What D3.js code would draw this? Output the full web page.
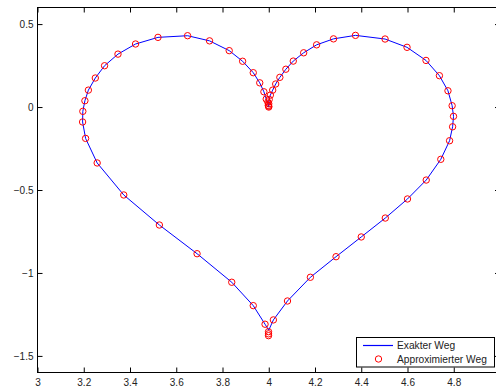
<!DOCTYPE html>
<html>
<head>
<meta charset="utf-8">
<script src="https://cdn.jsdelivr.net/npm/d3@7"></script>
<style>
  body { margin: 0; background: #fff; }
  svg { display: block; font-family: "Liberation Sans", Arial, sans-serif; }
</style>
</head>
<body>
<div id="chart"></div>
<script>
// exact path (blue line)
const pathX = [4.000, 3.998, 3.996, 3.989, 3.979, 3.961, 3.933, 3.887, 3.829, 3.744, 3.649, 3.521, 3.424, 3.348,
  3.290, 3.250, 3.220, 3.205, 3.196, 3.195, 3.208, 3.258, 3.373, 3.527, 3.690, 3.840, 3.933, 3.984, 4.000,
  4.020, 4.081, 4.180, 4.291, 4.400, 4.504, 4.600, 4.681, 4.744, 4.782, 4.795, 4.799, 4.793, 4.775, 4.738,
  4.680, 4.598, 4.503, 4.375, 4.280, 4.207, 4.151, 4.106, 4.074, 4.048, 4.030, 4.017, 4.007, 4.002, 4.000];
const pathY = [0.000, 0.010, 0.030, 0.048, 0.092, 0.146, 0.207, 0.276, 0.340, 0.399, 0.430, 0.420, 0.380, 0.319,
  0.249, 0.175, 0.102, 0.038, -0.026, -0.090, -0.189, -0.337, -0.530, -0.711, -0.884, -1.056, -1.197, -1.309, -1.345,
  -1.283, -1.169, -1.026, -0.902, -0.783, -0.669, -0.554, -0.440, -0.315, -0.203, -0.119, -0.056, 0.008, 0.098, 0.189,
  0.281, 0.360, 0.410, 0.432, 0.411, 0.375, 0.327, 0.277, 0.228, 0.179, 0.139, 0.102, 0.072, 0.046, 0.000];

// approximated path (red circles)
const approxX = [4.000, 3.998, 3.996, 3.989, 3.979, 3.961, 3.933, 3.887, 3.829, 3.744, 3.649, 3.521, 3.424, 3.348,
  3.290, 3.250, 3.220, 3.205, 3.196, 3.195, 3.208, 3.258, 3.373, 3.527, 3.690, 3.840, 3.933, 3.984, 3.999, 3.999, 3.999,
  4.020, 4.081, 4.180, 4.291, 4.400, 4.504, 4.600, 4.681, 4.744, 4.782, 4.795, 4.799, 4.793, 4.775, 4.738,
  4.680, 4.598, 4.503, 4.375, 4.280, 4.207, 4.151, 4.106, 4.074, 4.048, 4.030, 4.017, 4.007, 4.002, 4.000, 4.000];
const approxY = [0.000, 0.010, 0.030, 0.048, 0.092, 0.146, 0.207, 0.276, 0.340, 0.399, 0.430, 0.420, 0.380, 0.319,
  0.249, 0.175, 0.102, 0.038, -0.026, -0.090, -0.189, -0.337, -0.530, -0.711, -0.884, -1.056, -1.197, -1.309, -1.354, -1.367, -1.378,
  -1.283, -1.169, -1.026, -0.902, -0.783, -0.669, -0.554, -0.440, -0.315, -0.203, -0.119, -0.056, 0.008, 0.098, 0.189,
  0.281, 0.360, 0.410, 0.432, 0.411, 0.375, 0.327, 0.277, 0.228, 0.179, 0.139, 0.102, 0.072, 0.046, 0.020, 0.005];

const xTicks = [3, 3.2, 3.4, 3.6, 3.8, 4, 4.2, 4.4, 4.6, 4.8];
const yTicks = [-1.5, -1, -0.5, 0, 0.5];
const legendLabels = ['Exakter Weg', 'Approximierter Weg'];

const width = 496, height = 387;
const m = {left: 37.5, right: 500, top: 7.5, bottom: 372.5};

const x = d3.scaleLinear().domain([3, 5]).range([m.left, m.right]);
const y = d3.scaleLinear().domain([-1.6, 0.6]).range([m.bottom, m.top]);

const svg = d3.select('#chart').append('svg').attr('width', width).attr('height', height);
svg.append('rect').attr('width', width).attr('height', height).attr('fill', '#fff');

const fmt = (d) => String(d).replace('-', '\u2212');

// box
svg.append('rect').attr('x', m.left).attr('y', m.top).attr('width', m.right - m.left).attr('height', m.bottom - m.top)
  .attr('fill', 'none').attr('stroke', '#000').attr('stroke-width', 1);

// axes with inward ticks
const xAxis = d3.axisBottom(x).tickValues(xTicks).tickSize(-5).tickPadding(6).tickFormat(fmt);
const xAxisTop = d3.axisTop(x).tickValues(xTicks).tickSize(-5).tickFormat('');
const yAxis = d3.axisLeft(y).tickValues(yTicks).tickSize(-5).tickPadding(4).tickFormat(fmt);
const yAxisRight = d3.axisRight(y).tickValues(yTicks).tickSize(-5).tickFormat('');

svg.append('g').attr('transform', 'translate(0,' + m.bottom + ')').call(xAxis);
svg.append('g').attr('transform', 'translate(0,' + m.top + ')').call(xAxisTop);
svg.append('g').attr('transform', 'translate(' + m.left + ',0)').call(yAxis);
svg.append('g').attr('transform', 'translate(' + m.right + ',0)').call(yAxisRight);

svg.selectAll('.domain').remove();
svg.selectAll('.tick line').attr('stroke', '#000');
svg.selectAll('.tick text').attr('font-size', 10).attr('fill', '#222')
  .attr('font-family', '"Liberation Sans", Arial, sans-serif');

// exact path
const pts = pathX.map((d, i) => [d, pathY[i]]);
const line = d3.line().x((d) => x(d[0])).y((d) => y(d[1]));
svg.append('path').attr('d', line(pts)).attr('fill', 'none').attr('stroke', '#0000ff').attr('stroke-width', 1);

// approximated path
const apts = approxX.map((d, i) => [d, approxY[i]]);
svg.append('g').selectAll('circle').data(apts).join('circle')
  .attr('cx', (d) => x(d[0])).attr('cy', (d) => y(d[1])).attr('r', 3.2)
  .attr('fill', 'none').attr('stroke', '#ff0000').attr('stroke-width', 1);

// legend
const lg = svg.append('g');
lg.append('rect').attr('x', 356.5).attr('y', 337.5).attr('width', 138).attr('height', 29.5)
  .attr('fill', '#fff').attr('stroke', '#000').attr('stroke-width', 1);
lg.append('line').attr('x1', 363).attr('x2', 393).attr('y1', 345.5).attr('y2', 345.5)
  .attr('stroke', '#0000ff').attr('stroke-width', 1.2);
lg.append('circle').attr('cx', 378.5).attr('cy', 359).attr('r', 3.2)
  .attr('fill', 'none').attr('stroke', '#ff0000').attr('stroke-width', 1);
lg.selectAll('text').data(legendLabels).join('text')
  .attr('x', 397).attr('y', (d, i) => 349 + i * 14)
  .attr('font-size', 10.2).attr('fill', '#222').text((d) => d);
</script>
</body>
</html>
